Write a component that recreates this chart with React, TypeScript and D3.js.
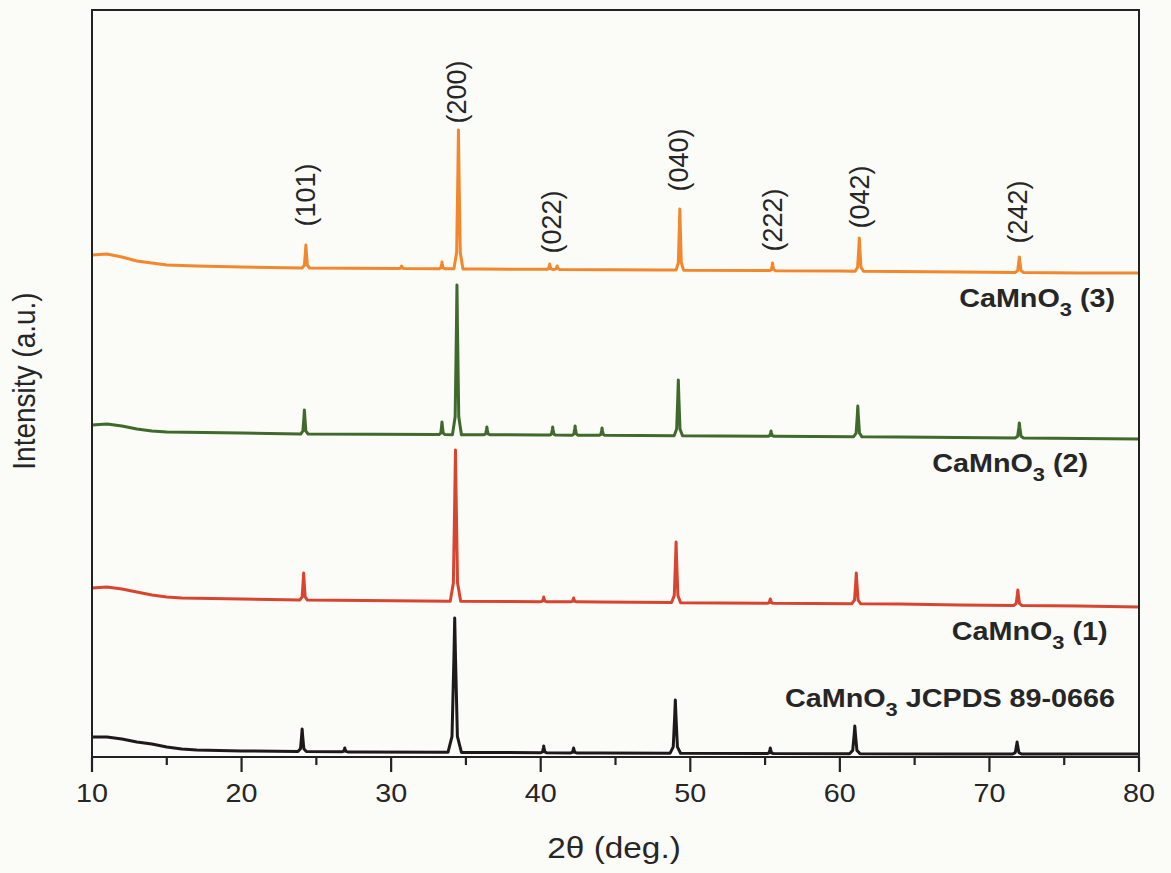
import React from "react";
import * as d3 from "d3";

const W = 1171;
const H = 873;

// axis ticks
const xTicks = [10, 20, 30, 40, 50, 60, 70, 80];
const xMinorTicks = [15, 25, 35, 45, 55, 65, 75];

// Baseline knots [2θ, intensity a.u.] and peaks [2θ, peak-top intensity, half width]
const blackBase: [number, number][] = [
  [10, 20], [11, 20], [12, 18], [13, 15], [14, 13], [15, 10], [16, 8], [17, 7], [20, 6],
  [28, 5], [44, 4], [68, 3], [80, 3],
];
const blackPeaks: [number, number, number][] = [
  [24.05, 28, 0.28], [26.9, 9, 0.2], [34.25, 139, 0.45], [40.2, 11, 0.2], [42.2, 9, 0.2],
  [49.0, 57, 0.35], [55.35, 9, 0.2], [61.0, 31, 0.35], [71.85, 15, 0.3],
];

const redBase: [number, number][] = [
  [10, 169], [11, 170], [12, 168], [13, 165], [14, 162], [15, 160], [16, 159], [20, 158],
  [24, 157], [32, 156], [44, 155], [52, 154], [64, 153], [68, 152], [76, 151], [80, 150],
];
const redPeaks: [number, number, number][] = [
  [24.15, 184, 0.25], [34.3, 307, 0.35], [40.2, 160, 0.2], [42.2, 159, 0.2],
  [49.05, 215, 0.3], [55.35, 158, 0.2], [61.1, 184, 0.3], [71.9, 167, 0.28],
];

const greenBase: [number, number][] = [
  [10, 332], [11, 333], [12, 331], [13, 328], [14, 326], [15, 325], [20, 324], [24, 323],
  [40, 322], [52, 321], [64, 320], [72, 319], [80, 318],
];
const greenPeaks: [number, number, number][] = [
  [24.2, 347, 0.25], [33.4, 335, 0.2], [34.4, 472, 0.3], [36.4, 330, 0.2], [40.8, 330, 0.2],
  [42.3, 331, 0.2], [44.1, 329, 0.2], [49.2, 377, 0.28], [55.4, 326, 0.2], [61.2, 351, 0.28],
  [72.0, 334, 0.28],
];

const orangeBase: [number, number][] = [
  [10, 502], [11, 503], [12, 500], [13, 496], [14, 494], [15, 492], [17, 491], [20, 490],
  [24, 489], [36, 488], [48, 487], [60, 486], [68, 485], [76, 484], [80, 484],
];
const orangePeaks: [number, number, number][] = [
  [24.3, 512, 0.25], [30.7, 491, 0.2], [33.4, 495, 0.2], [34.5, 627, 0.3], [40.6, 493, 0.2],
  [41.1, 491, 0.2], [49.3, 548, 0.25], [55.5, 494, 0.2], [61.3, 519, 0.28], [72.0, 500, 0.28],
];

// hkl labels: [2θ position of label, label text, label centre height (a.u.)]
const hklLabels: [number, string, number][] = [
  [24.4, "(101)", 562],
  [34.5, "(200)", 665],
  [40.8, "(022)", 535],
  [49.3, "(040)", 597],
  [55.6, "(222)", 537],
  [61.4, "(042)", 560],
  [72.0, "(242)", 545],
];

const seriesNames = ["CaMnO3 JCPDS 89-0666", "CaMnO3 (1)", "CaMnO3 (2)", "CaMnO3 (3)"];
const seriesColors = ["#1e1a1a", "#d8442f", "#3f6a2b", "#f2872c"];
// label anchor (end) [2θ, intensity]
const seriesLabelPos: [number, number][] = [
  [78.4, 50], [77.9, 117], [76.6, 285], [78.4, 450],
];

const FONT = "'Liberation Sans', Arial, Helvetica, sans-serif";
const TXT = "#262626";

function buildTrace(base: [number, number][], peaks: [number, number, number][]) {
  const baseAt = (x: number) => {
    for (let i = 0; i < base.length - 1; i++) {
      const [x0, y0] = base[i];
      const [x1, y1] = base[i + 1];
      if (x >= x0 && x <= x1) return y0 + ((y1 - y0) * (x - x0)) / (x1 - x0);
    }
    return base[base.length - 1][1];
  };
  const pts: [number, number][] = base.filter(
    ([x]) => !peaks.some(([c, , w]) => Math.abs(x - c) < w)
  );
  peaks.forEach(([c, top, w]) => {
    const bL = baseAt(c - w);
    const bR = baseAt(c + w);
    const bc = baseAt(c);
    pts.push([c - w, bL]);
    pts.push([c - w * 0.4, bc + (top - bc) * 0.12]);
    pts.push([c - w * 0.12, bc + (top - bc) * 0.7]);
    pts.push([c, top]);
    pts.push([c + w * 0.12, bc + (top - bc) * 0.7]);
    pts.push([c + w * 0.4, bc + (top - bc) * 0.12]);
    pts.push([c + w, bR]);
  });
  pts.sort((a, b) => a[0] - b[0]);
  return pts;
}

export default function App() {
  const left = 92, right = 1139, top = 10, bottom = 757;
  const x = d3.scaleLinear().domain([10, 80]).range([left, right]);
  const y = d3.scaleLinear().domain([0, 747]).range([bottom, top]);
  const line = d3
    .line<[number, number]>()
    .x((d) => x(d[0]))
    .y((d) => y(d[1]));

  const traces = [
    buildTrace(blackBase, blackPeaks),
    buildTrace(redBase, redPeaks),
    buildTrace(greenBase, greenPeaks),
    buildTrace(orangeBase, orangePeaks),
  ];

  const renderName = (name: string) => {
    const rest = name.slice("CaMnO3".length);
    return (
      <>
        <tspan>CaMnO</tspan>
        <tspan fontSize={19} dy={9}>3</tspan>
        <tspan dy={-9}>{rest}</tspan>
      </>
    );
  };

  return (
    <div style={{ position: "absolute", left: 0, top: 0, width: W, height: H }}>
      <svg width={W} height={H} viewBox={`0 0 ${W} ${H}`} style={{ display: "block" }}>
        <rect x={0} y={0} width={W} height={H} fill="#fbfbf8" />

        {traces.map((t, i) => (
          <path
            key={i}
            d={line(t) || ""}
            fill="none"
            stroke={seriesColors[i]}
            strokeWidth={3}
            strokeLinejoin="round"
          />
        ))}

        {/* frame */}
        <path
          d={`M${left},${bottom} L${left},${top} L${right},${top} L${right},${bottom} Z`}
          fill="none"
          stroke="#222"
          strokeWidth={2}
        />

        {/* x ticks */}
        {xTicks.map((t) => (
          <line key={t} x1={x(t)} x2={x(t)} y1={bottom} y2={bottom + 15} stroke="#222" strokeWidth={2.2} />
        ))}
        {xMinorTicks.map((t) => (
          <line key={t} x1={x(t)} x2={x(t)} y1={bottom} y2={bottom + 8} stroke="#222" strokeWidth={2.2} />
        ))}
        {xTicks.map((t) => (
          <g key={"l" + t} transform={`translate(${x(t)},802) scale(1.15,1)`}>
            <text textAnchor="middle" fontFamily={FONT} fontSize={25} fill={TXT}>
              {t}
            </text>
          </g>
        ))}

        {/* axis titles */}
        <g transform={`translate(614,858) scale(1.15,1)`}>
          <text textAnchor="middle" fontFamily={FONT} fontSize={29} fill={TXT}>
            2θ (deg.)
          </text>
        </g>
        <g transform={`translate(35,381) scale(1.15,1) rotate(-90)`}>
          <text textAnchor="middle" fontFamily={FONT} fontSize={28} fill={TXT}>
            Intensity (a.u.)
          </text>
        </g>

        {/* hkl labels */}
        {hklLabels.map(([pos, lab, h]) => (
          <g key={lab} transform={`translate(${x(pos) + 8},${y(h)}) rotate(-90)`}>
            <text textAnchor="middle" fontFamily={FONT} fontSize={27} fill={TXT}>
              {lab}
            </text>
          </g>
        ))}

        {/* series labels */}
        {seriesNames.map((n, i) => (
          <g
            key={n}
            transform={`translate(${x(seriesLabelPos[i][0])},${y(seriesLabelPos[i][1])}) scale(1.15,1)`}
          >
            <text textAnchor="end" fontFamily={FONT} fontSize={25} fontWeight="bold" fill={TXT}>
              {renderName(n)}
            </text>
          </g>
        ))}
      </svg>
    </div>
  );
}
